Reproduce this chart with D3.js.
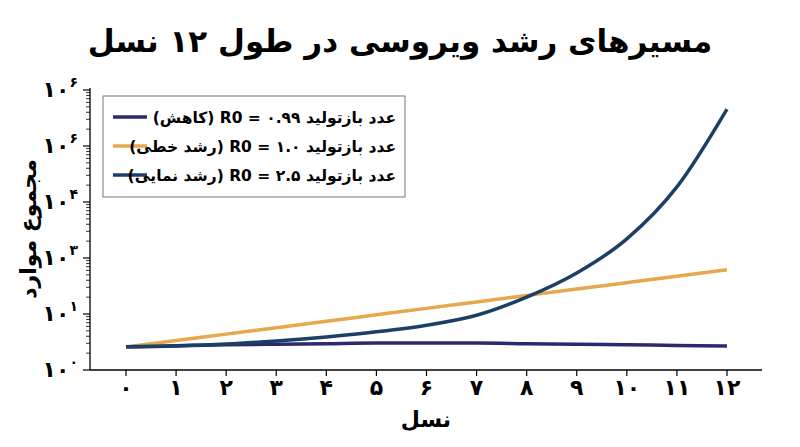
<!DOCTYPE html>
<html><head><meta charset="utf-8">
<script src="https://cdn.jsdelivr.net/npm/d3@7"></script>
<style>body{margin:0;background:#fff}text{font-family:"DejaVu Sans",sans-serif}</style>
</head><body><svg id="c" width="800" height="447"></svg>
<script>
const generations=[0,1,2,3,4,5,6,7,8,9,10,11,12];
const xLabels=["۰","۱","۲","۳","۴","۵","۶","۷","۸","۹","۱۰","۱۱","۱۲"];
const decline=[2.57,2.69,2.82,2.88,2.95,3.02,3.02,3.02,2.95,2.88,2.82,2.75,2.69];
const linear=[2.57,3.35,4.37,5.69,7.42,9.66,12.6,16.4,21.4,27.9,36.3,47.3,61.7];
const expo=[2.6,2.7,2.9,3.3,3.9,4.8,6.3,9.5,20,54,219,1860,45700];
const yTicks=[1,10,100,1000,10000,100000];
const yTickSup=["۰","۱","۳","۴","۶","۶"];
const seriesNames=["عدد بازتولید ۰.۹۹ = R0 (کاهش)","عدد بازتولید ۱.۰ = R0 (رشد خطی)","عدد بازتولید ۲.۵ = R0 (رشد نمایی)"];
const colors=["#2b2a6e","#e6a84c","#1c3f66"];
const svg=d3.select("#c");
const x=d3.scaleLinear().domain([0,12]).range([126,727]);
const y=d3.scaleLog().domain([1,1e5]).range([370,90]);
svg.append("text").attr("x",400).attr("y",52).attr("text-anchor","middle").attr("font-size",31).attr("font-weight","bold").attr("direction","rtl").text("مسیرهای رشد ویروسی در طول ۱۲ نسل");
svg.append("line").attr("x1",90).attr("x2",90).attr("y1",88).attr("y2",370).attr("stroke","#000").attr("stroke-width",1.3);
svg.append("line").attr("x1",90).attr("x2",762).attr("y1",370).attr("y2",370).attr("stroke","#000").attr("stroke-width",1.3);
const minors=[];
for(let d=1;d<1e5;d*=10)for(let k=2;k<10;k++)minors.push(d*k);
svg.selectAll(".mn").data(minors).join("line").attr("x1",86).attr("x2",90).attr("y1",d=>y(d)).attr("y2",d=>y(d)).attr("stroke","#000").attr("stroke-width",0.8);
svg.selectAll(".mj").data(yTicks).join("line").attr("x1",83).attr("x2",90).attr("y1",d=>y(d)).attr("y2",d=>y(d)).attr("stroke","#000").attr("stroke-width",1.2);
const yl=svg.selectAll(".yl").data(yTicks).join("text").attr("x",78).attr("y",d=>y(d)+7).attr("text-anchor","end").attr("font-size",22).attr("font-weight","bold");
yl.append("tspan").text("۱۰");
yl.append("tspan").attr("font-size",14).attr("dy",-10).text((d,i)=>yTickSup[i]);
svg.selectAll(".xt").data(generations).join("line").attr("x1",d=>x(d)).attr("x2",d=>x(d)).attr("y1",370).attr("y2",376).attr("stroke","#000").attr("stroke-width",1.2);
svg.selectAll(".xl").data(generations).join("text").attr("x",d=>x(d)).attr("y",395).attr("text-anchor","middle").attr("font-size",22).attr("font-weight","bold").text((d,i)=>xLabels[i]);
svg.append("text").attr("x",426).attr("y",427).attr("text-anchor","middle").attr("font-size",22).attr("font-weight","bold").text("نسل");
svg.append("text").attr("transform","translate(36,229) rotate(-90)").attr("text-anchor","middle").attr("font-size",22).attr("font-weight","bold").text("مجموع موارد");
const line=d3.line().x((d,i)=>x(generations[i])).y(d=>y(d)).curve(d3.curveMonotoneX);
[decline,linear,expo].forEach((s,i)=>svg.append("path").attr("d",line(s)).attr("fill","none").attr("stroke",colors[i]).attr("stroke-width",3.5));
const lg=svg.append("g");
lg.append("rect").attr("x",103).attr("y",96).attr("width",302).attr("height",101).attr("fill","#fff").attr("stroke","#777").attr("stroke-width",1);
seriesNames.forEach((n,i)=>{
  const yy=117+i*29;
  lg.append("line").attr("x1",113).attr("x2",147).attr("y1",yy).attr("y2",yy).attr("stroke",colors[i]).attr("stroke-width",3.5);
  lg.append("text").attr("x",396).attr("y",yy+6).attr("text-anchor","start").attr("font-size",15.5).attr("font-weight","bold").attr("direction","rtl").text(n);
});
</script></body></html>
